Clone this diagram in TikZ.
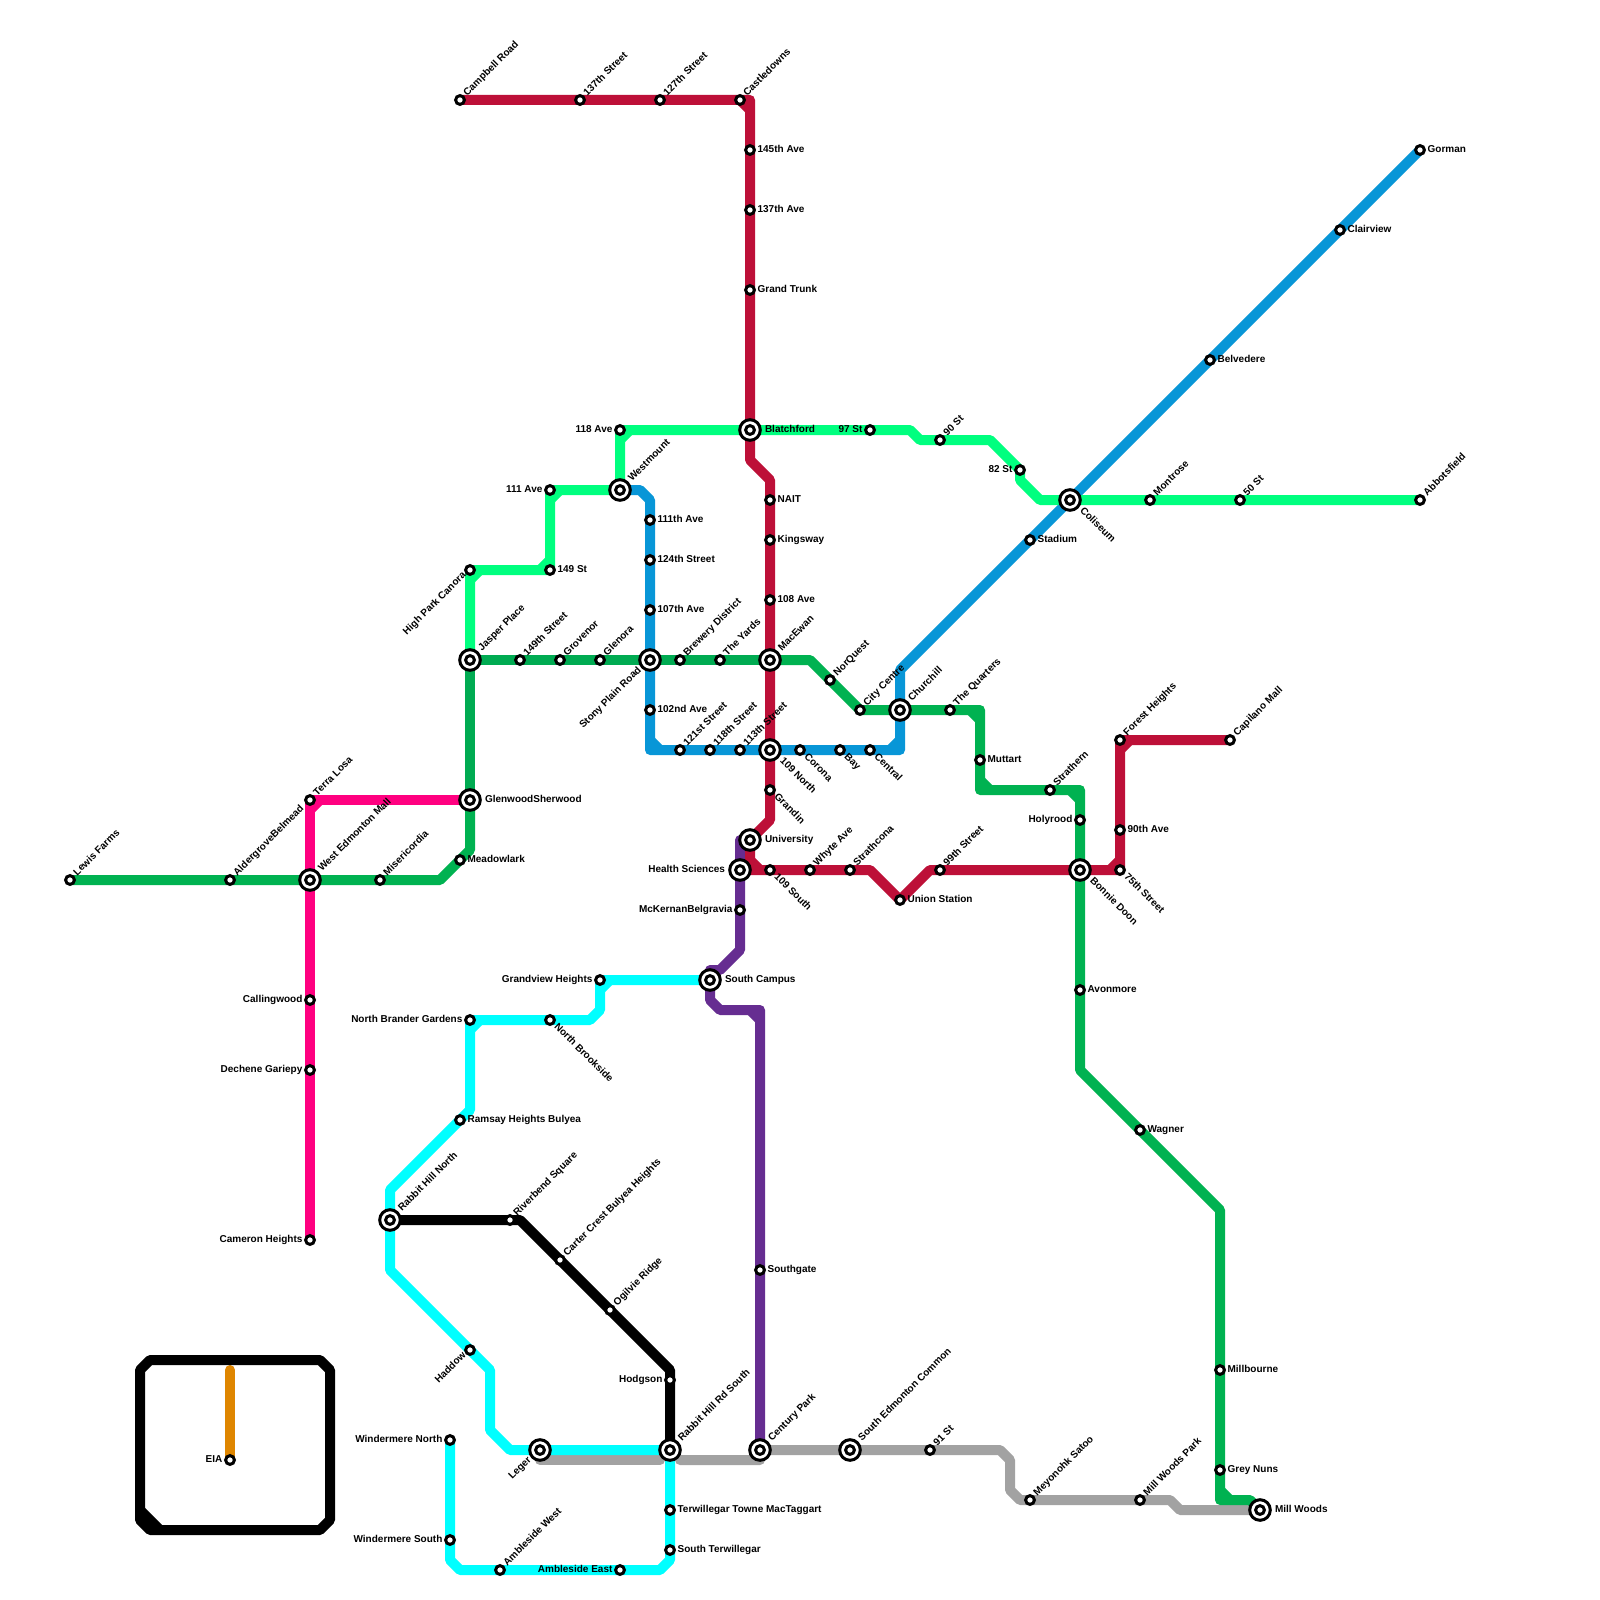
\documentclass[tikz,border=0pt]{standalone}
\usepackage{fontspec}
\setmainfont{Liberation Sans}
\definecolor{cred}{HTML}{BD1038}
\definecolor{clime}{HTML}{00FF7F}
\definecolor{cgreen}{HTML}{00B251}
\definecolor{cdgreen}{HTML}{00AB52}
\definecolor{cblue}{HTML}{0896D7}
\definecolor{cpink}{HTML}{FF0080}
\definecolor{ccyan}{HTML}{00FFFF}
\definecolor{cpurple}{HTML}{662D91}
\definecolor{cgray}{HTML}{A2A2A2}
\definecolor{corange}{HTML}{DF8600}
\tikzset{
 rail/.style={line width=5pt,line join=round,line cap=butt},
 ring/.style={circle,draw=black,fill=white,line width=1.5pt,minimum size=4.4pt,inner sep=0pt,outer sep=0pt},
 bigring/.style={circle,draw=black,fill=white,line width=1.5pt,minimum size=10.3pt,inner sep=0pt,outer sep=0pt},
 lbl/.style={font=\bfseries\fontsize{5pt}{6pt}\selectfont,inner sep=0pt,outer sep=0pt,text height=3.6pt,text depth=0pt,text=black},
 lblR/.style={lbl,anchor=west,xshift=#1*1pt,yshift=.5pt},
 lblL/.style={lbl,anchor=east,xshift=-#1*1pt,yshift=.5pt},
 lblNE/.style={lbl,rotate=45,anchor=west,xshift=#1*.9pt+.5pt,yshift=.5pt},
 lblSE/.style={lbl,rotate=-45,anchor=west,xshift=#1*.95pt+.35pt,yshift=#1*.16pt},
 lblSW/.style={lbl,rotate=45,anchor=east,xshift=-#1*.9pt,yshift=1pt},
}
\newcommand{\stationlist}{%
\Sm{lewis}{70}{880}{NE}{Lewis Farms}
\Sm{aldergrove}{230}{880}{NE}{AldergroveBelmead}
\Bg{wem}{310}{880}{NE}{West Edmonton Mall}
\Sm{miseri}{380}{880}{NE}{Misericordia}
\Sm{meadow}{460}{860}{R}{Meadowlark}
\Bg{glenwood}{470}{800}{R}{GlenwoodSherwood}
\Sm{terra}{310}{800}{NE}{Terra Losa}
\Sm{calling}{310}{1000}{L}{Callingwood}
\Sm{dechene}{310}{1070}{L}{Dechene Gariepy}
\Sm{cameron}{310}{1240}{L}{Cameron Heights}
\Sm{highpark}{470}{570}{SW}{High Park Canora}
\Bg{jasper}{470}{660}{NE}{Jasper Place}
\Sm{st149}{520}{660}{NE}{149th Street}
\Sm{grovenor}{560}{660}{NE}{Grovenor}
\Sm{glenora}{600}{660}{NE}{Glenora}
\Bg{stony}{650}{660}{SW}{Stony Plain Road}
\Sm{brewery}{680}{660}{NE}{Brewery District}
\Sm{yards}{720}{660}{NE}{The Yards}
\Bg{macewan}{770}{660}{NE}{MacEwan}
\Sm{norquest}{830}{680}{NE}{NorQuest}
\Sm{citycentre}{860}{710}{NE}{City Centre}
\Bg{churchill}{900}{710}{NE}{Churchill}
\Sm{quarters}{950}{710}{NE}{The Quarters}
\Sm{muttart}{980}{760}{R}{Muttart}
\Sm{strathern}{1050}{790}{NE}{Strathern}
\Sm{holyrood}{1080}{820}{L}{Holyrood}
\Bg{bonnie}{1080}{870}{SE}{Bonnie Doon}
\Sm{avonmore}{1080}{990}{R}{Avonmore}
\Sm{wagner}{1140}{1130}{R}{Wagner}
\Sm{millbourne}{1220}{1370}{R}{Millbourne}
\Sm{greynuns}{1220}{1470}{R}{Grey Nuns}
\Bg{millwoods}{1260}{1510}{R}{Mill Woods}
\Sm{campbell}{460}{100}{NE}{Campbell Road}
\Sm{st137}{580}{100}{NE}{137th Street}
\Sm{st127}{660}{100}{NE}{127th Street}
\Sm{castle}{740}{100}{NE}{Castledowns}
\Sm{av145}{750}{150}{R}{145th Ave}
\Sm{av137}{750}{210}{R}{137th Ave}
\Sm{grand}{750}{290}{R}{Grand Trunk}
\Bg{blatch}{750}{430}{R}{Blatchford}
\Sm{nait}{770}{500}{R}{NAIT}
\Sm{kings}{770}{540}{R}{Kingsway}
\Sm{av108}{770}{600}{R}{108 Ave}
\Bg{northnine}{770}{750}{SE}{109 North}
\Sm{grandin}{770}{790}{SE}{Grandin}
\Bg{univ}{750}{840}{R}{University}
\Bg{health}{740}{870}{L}{Health Sciences}
\Sm{southnine}{770}{870}{SE}{109 South}
\Sm{whyte}{810}{870}{NE}{Whyte Ave}
\Sm{strath}{850}{870}{NE}{Strathcona}
\Sm{union}{900}{900}{R}{Union Station}
\Sm{st99}{940}{870}{NE}{99th Street}
\Sm{st75}{1120}{870}{SE}{75th Street}
\Sm{av90}{1120}{830}{R}{90th Ave}
\Sm{forest}{1120}{740}{NE}{Forest Heights}
\Sm{capilano}{1230}{740}{NE}{Capilano Mall}
\Sm{gorman}{1420}{150}{R}{Gorman}
\Sm{clair}{1340}{230}{R}{Clairview}
\Sm{belv}{1210}{360}{R}{Belvedere}
\Bg{coliseum}{1070}{500}{SE}{Coliseum}
\Sm{stadium}{1030}{540}{R}{Stadium}
\Sm{av111}{650}{520}{R}{111th Ave}
\Sm{st124}{650}{560}{R}{124th Street}
\Sm{av107}{650}{610}{R}{107th Ave}
\Sm{av102}{650}{710}{R}{102nd Ave}
\Sm{st121}{680}{750}{NE}{121st Street}
\Sm{st118}{710}{750}{NE}{118th Street}
\Sm{st113}{740}{750}{NE}{113th Street}
\Sm{corona}{800}{750}{SE}{Corona}
\Sm{bay}{840}{750}{SE}{Bay}
\Sm{central}{870}{750}{SE}{Central}
\Sm{abbots}{1420}{500}{NE}{Abbotsfield}
\Sm{st50}{1240}{500}{NE}{50 St}
\Sm{montrose}{1150}{500}{NE}{Montrose}
\Sm{st82}{1020}{470}{L}{82 St}
\Sm{st90}{940}{440}{NE}{90 St}
\Sm{st97}{870}{430}{L}{97 St}
\Sm{av118}{620}{430}{L}{118 Ave}
\Bg{westmount}{620}{490}{NE}{Westmount}
\Sm{ave111}{550}{490}{L}{111 Ave}
\Sm{st149b}{550}{570}{R}{149 St}
\Sm{mckernan}{740}{910}{L}{McKernanBelgravia}
\Bg{southcampus}{710}{980}{R}{South Campus}
\Sm{southgate}{760}{1270}{R}{Southgate}
\Bg{century}{760}{1450}{NE}{Century Park}
\Sm{grandview}{600}{980}{L}{Grandview Heights}
\Sm{brander}{470}{1020}{L}{North Brander Gardens}
\Sm{brookside}{550}{1020}{SE}{North Brookside}
\Sm{ramsay}{460}{1120}{R}{Ramsay Heights Bulyea}
\Bg{rabbitn}{390}{1220}{NE}{Rabbit Hill North}
\Sm{haddow}{470}{1350}{SW}{Haddow}
\Bg{leger}{540}{1450}{SW}{Leger}
\Bg{rabbits}{670}{1450}{NE}{Rabbit Hill Rd South}
\Sm{terw}{670}{1510}{R}{Terwillegar Towne MacTaggart}
\Sm{sterw}{670}{1550}{R}{South Terwillegar}
\Sm{ambe}{620}{1570}{L}{Ambleside East}
\Sm{ambw}{500}{1570}{NE}{Ambleside West}
\Sm{winds}{450}{1540}{L}{Windermere South}
\Sm{windn}{450}{1440}{L}{Windermere North}
\Sm{riverbend}{510}{1220}{NE}{Riverbend Square}
\Sm{carter}{560}{1260}{NE}{Carter Crest Bulyea Heights}
\Sm{ogilvie}{610}{1310}{NE}{Ogilvie Ridge}
\Sm{hodgson}{670}{1380}{L}{Hodgson}
\Bg{secommon}{850}{1450}{NE}{South Edmonton Common}
\Sm{st91}{930}{1450}{NE}{91 St}
\Sm{meyonohk}{1030}{1500}{NE}{Meyonohk Satoo}
\Sm{mwpark}{1140}{1500}{NE}{Mill Woods Park}
\Sm{eia}{230}{1460}{L}{EIA}
}
\begin{document}
\begin{tikzpicture}[x=0.5pt,y=-0.5pt]
\useasboundingbox (0,0) rectangle (1600,1600);
\fill[white] (0,0) rectangle (1600,1600);
% coordinates of all stations
\def\Sm#1#2#3#4#5{\coordinate (#1) at (#2,#3);}
\let\Bg\Sm
\stationlist
% grey
\draw[rail,cgray] (leger) -- (540,1460) -- (660,1460) -- (660,1455);
\draw[rail,cgray] (680,1455) -- (680,1460) -- (760,1460) -- (century) -- (secommon) -- (st91) -- (1000,1450) -- (1010,1460) -- (1010,1490) -- (1020,1500) -- (meyonohk) -- (mwpark) -- (1170,1500) -- (1180,1510) -- (millwoods);
% orange
\draw[rail,corange,line cap=round] (230,1370) -- (eia);
% black box
\draw[rail,black] (150,1360) -- (320,1360) -- (330,1370) -- (330,1520) -- (320,1530) -- (150,1530) -- (140,1520) -- (140,1370) -- cycle;
\draw[rail,black] (140,1510) -- (160,1530);
% black line
\draw[rail,black] (rabbitn) -- (riverbend) -- (520,1220) -- (carter) -- (ogilvie) -- (670,1370) -- (hodgson) -- (rabbits);
% cyan
\draw[rail,ccyan] (southcampus) -- (grandview) -- (600,1010) -- (590,1020) -- (brookside) -- (brander) -- (470,1110) -- (ramsay) -- (390,1190) -- (rabbitn) -- (390,1270) -- (haddow) -- (490,1370) -- (490,1430) -- (510,1450) -- (leger) -- (rabbits) -- (terw) -- (sterw) -- (670,1560) -- (660,1570) -- (ambe) -- (ambw) -- (460,1570) -- (450,1560) -- (winds) -- (windn);
\draw[rail,ccyan] (600,990) -- (610,980) (470,1030) -- (480,1020);
% purple
\draw[rail,cpurple] (univ) -- (740,840) -- (health) -- (mckernan) -- (740,950) -- (720,970) -- (710,970) -- (southcampus) -- (710,1000) -- (720,1010) -- (760,1010) -- (southgate) -- (century);
\draw[rail,cpurple] (750,1010) -- (760,1020);
% blue
\draw[rail,cblue] (westmount) -- (640,490) -- (650,500) -- (av111) -- (st124) -- (av107) -- (stony) -- (av102) -- (650,750) -- (st121) -- (st118) -- (st113) -- (northnine) -- (corona) -- (bay) -- (central) -- (900,750) -- (churchill) -- (900,670) -- (stadium) -- (coliseum) -- (belv) -- (clair) -- (gorman);
\draw[rail,cblue] (650,740) -- (660,750) (890,750) -- (900,740);
% pink
\draw[rail,cpink] (cameron) -- (dechene) -- (calling) -- (wem) -- (terra) -- (glenwood);
\draw[rail,cpink] (310,810) -- (320,800);
% red
\draw[rail,cred] (campbell) -- (st137) -- (st127) -- (castle) -- (750,100) -- (av145) -- (av137) -- (grand) -- (blatch) -- (750,460) -- (770,480) -- (nait) -- (kings) -- (av108) -- (macewan) -- (northnine) -- (grandin) -- (770,820) -- (univ) -- (750,860) -- (760,870);
\draw[rail,cred] (health) -- (southnine) -- (whyte) -- (strath) -- (870,870) -- (union) -- (930,870) -- (st99) -- (bonnie) -- (st75) -- (av90) -- (forest) -- (capilano);
\draw[rail,cred] (740,100) -- (750,110) (1110,870) -- (1120,860) (1120,750) -- (1130,740);
% lime
\draw[rail,clime] (abbots) -- (st50) -- (montrose) -- (coliseum) -- (1040,500) -- (1020,480) -- (st82) -- (990,440) -- (st90) -- (920,440) -- (910,430) -- (st97) -- (blatch) -- (av118) -- (westmount) -- (ave111) -- (st149b) -- (highpark) -- (jasper);
\draw[rail,clime] (620,440) -- (630,430) (550,500) -- (560,490) (540,570) -- (550,560) (470,580) -- (480,570);
% green
\draw[rail,cgreen] (lewis) -- (aldergrove) -- (wem) -- (miseri) -- (440,880) -- (meadow) -- (470,850) -- (glenwood);
\draw[rail,cdgreen] (glenwood) -- (jasper) -- (st149) -- (grovenor) -- (glenora) -- (stony) -- (brewery) -- (yards) -- (macewan);
\draw[rail,cgreen] (macewan) -- (810,660) -- (norquest) -- (citycentre) -- (churchill) -- (quarters) -- (980,710) -- (muttart) -- (980,790) -- (strathern) -- (1080,790) -- (holyrood) -- (bonnie) -- (avonmore) -- (1080,1070) -- (wagner) -- (1220,1210) -- (millbourne) -- (greynuns) -- (1220,1500) -- (1250,1500) -- (millwoods);
\draw[rail,cgreen] (970,710) -- (980,720) (980,780) -- (990,790) (1070,790) -- (1080,800) (1220,1490) -- (1230,1500);
% station symbols and labels
\def\Sm#1#2#3#4#5{\node[ring] (#1-s) at (#1) {};\node[lbl#4=3.8] (#1-t) at (#1) {#5};}
\def\Bg#1#2#3#4#5{\node[bigring] (#1-o) at (#1) {};\node[ring] (#1-s) at (#1) {};\node[lbl#4=7.5] (#1-t) at (#1) {#5};}
\stationlist
\end{tikzpicture}
\end{document}
